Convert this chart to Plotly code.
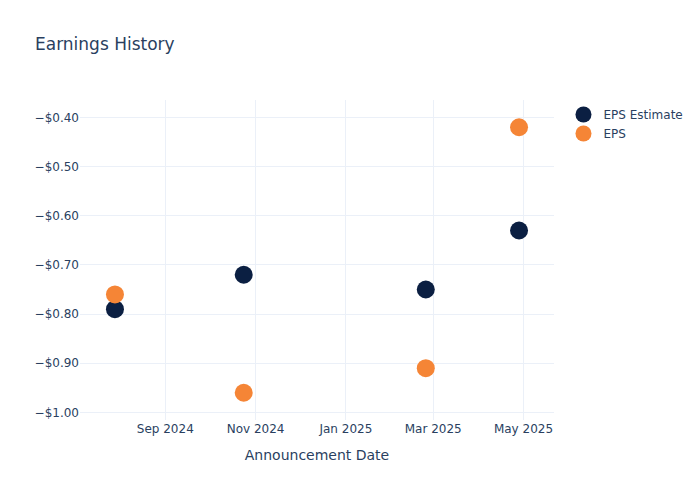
import plotly.graph_objects as go

dates = ["2024-07-29", "2024-10-24", "2025-02-24", "2025-04-28"]
eps_estimate = [-0.79, -0.72, -0.75, -0.63]
eps_actual = [-0.76, -0.96, -0.91, -0.42]

fig = go.Figure()
fig.add_trace(go.Scatter(x=dates, y=eps_estimate, mode="markers", name="EPS Estimate",
                         marker=dict(size=18, color="#0b1f42")))
fig.add_trace(go.Scatter(x=dates, y=eps_actual, mode="markers", name="EPS",
                         marker=dict(size=18, color="#f58536")))
fig.update_layout(
    template="plotly_white",
    width=700, height=500,
    font=dict(family="DejaVu Sans"),
    title=dict(text="Earnings History"),
    xaxis=dict(title=dict(text="Announcement Date")),
    yaxis=dict(tickformat="$.2f"),
)
fig.write_html("out.html", config={"displayModeBar": False},
               post_script="document.body.style.margin='0';")
